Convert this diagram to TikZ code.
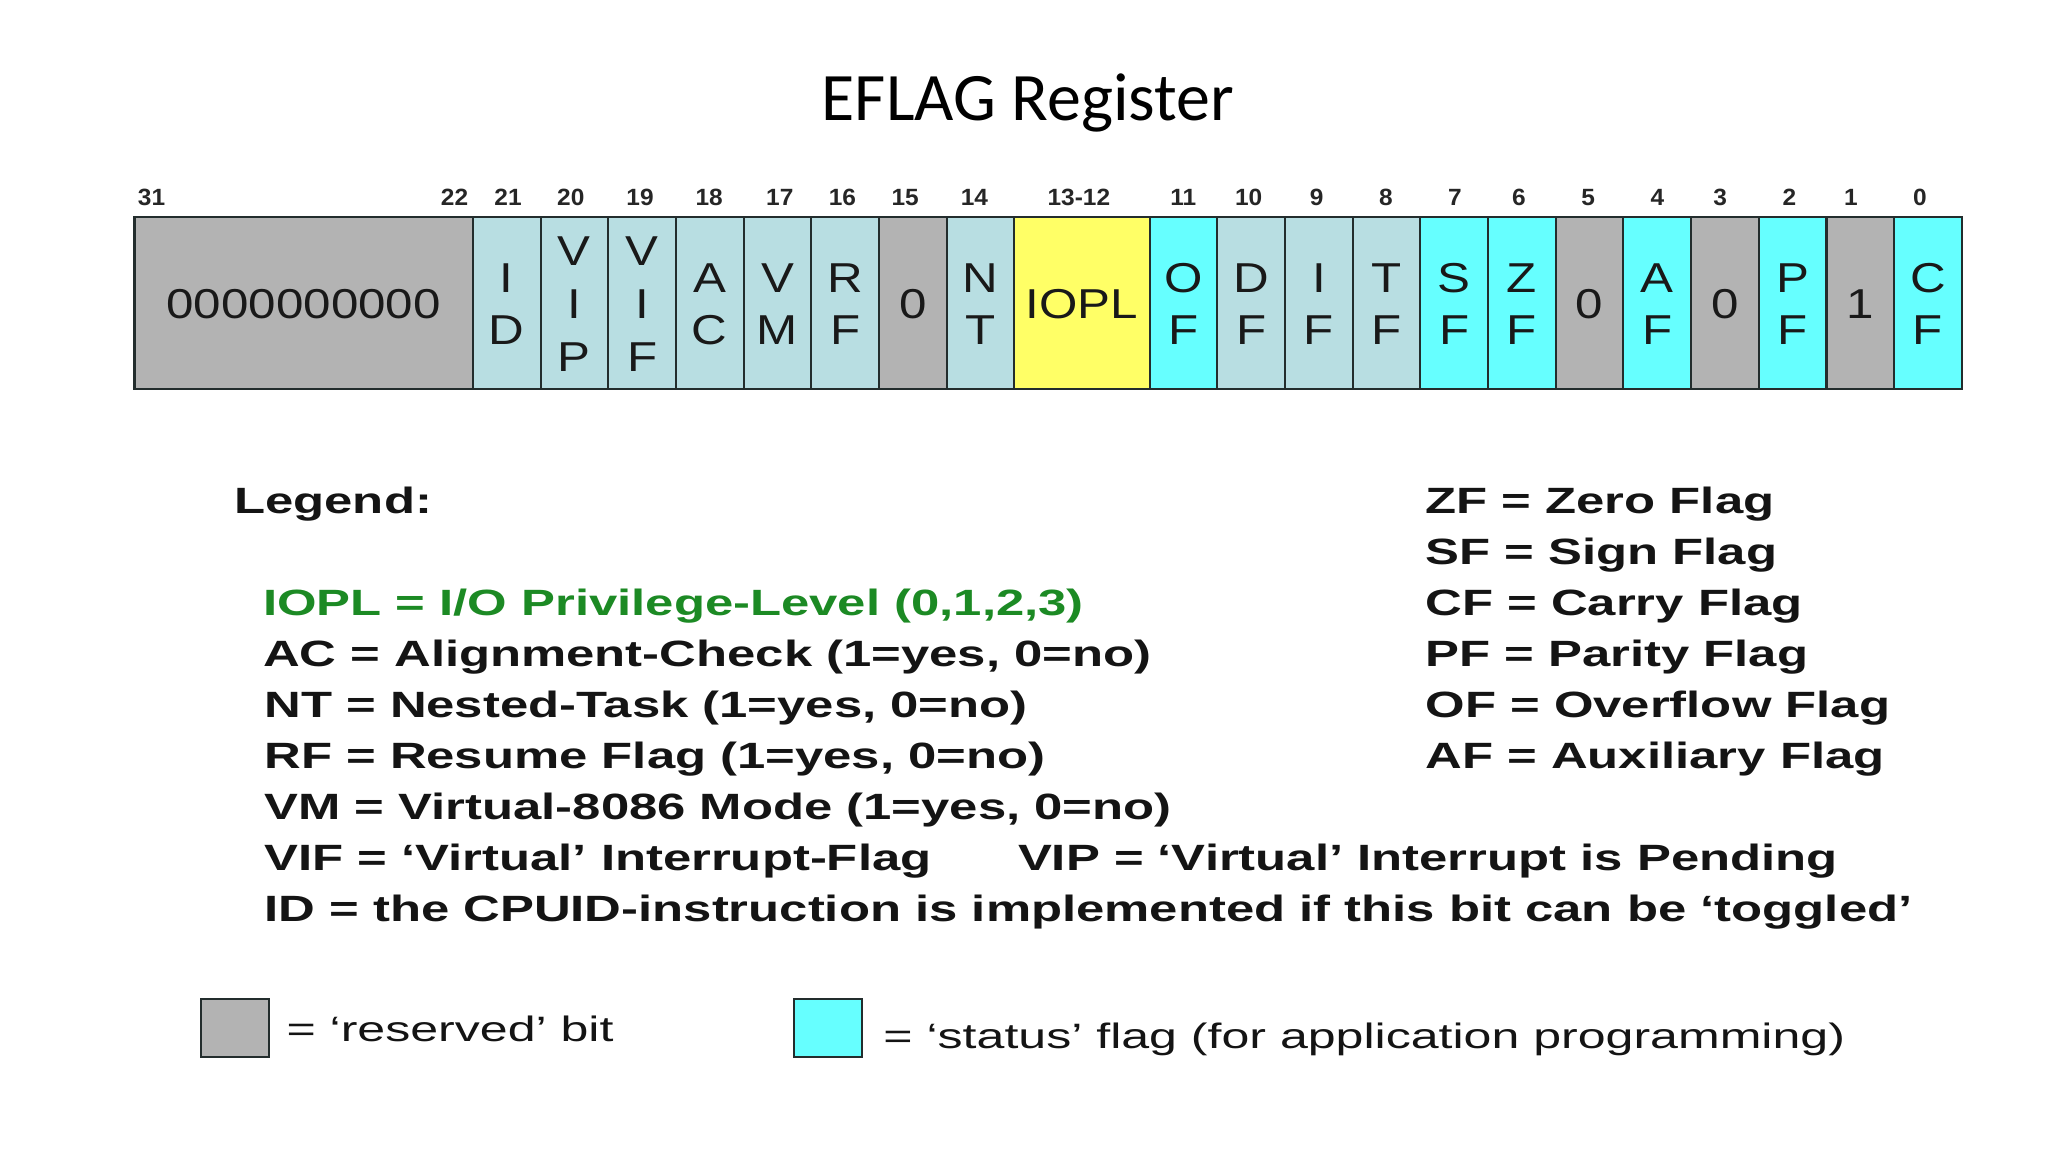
\documentclass[tikz,border=0pt]{standalone}
\usepackage{fontspec}
\setmainfont{Liberation Sans}
\newfontfamily\titlefont{Carlito}
\newfontfamily\regfont[FakeStretch=1.18]{Liberation Sans}
\newfontfamily\bitfont[FakeStretch=1.04]{Liberation Sans}
\newfontfamily\legfont[FakeStretch=1.39]{Liberation Sans}
\newfontfamily\keyfont[FakeStretch=1.42]{Liberation Sans}
\definecolor{rsv}{RGB}{179,179,179}
\definecolor{sysf}{RGB}{184,222,226}
\definecolor{stf}{RGB}{102,255,255}
\definecolor{ioplc}{RGB}{255,255,102}
\definecolor{grn}{RGB}{28,138,36}
\definecolor{edge}{RGB}{35,45,45}
\newcommand\regcell[4]{\node[cell, fill=#4, minimum width={#3*25.9074pt}] (#1) at ({103+(#2+#3/2)*51.8148},232) {};}
\newcommand\onel[2]{\node[rt] (#1-a) at ([yshift=-6pt]#1.center) {#2};}
\newcommand\twol[3]{\node[rt] (#1-a) at ([yshift=4pt]#1.center) {#2};\node[rt] (#1-b) at ([yshift=-15.75pt]#1.center) {#3};}
\newcommand\threel[4]{\node[rt] (#1-a) at ([yshift=14.5pt]#1.center) {#2};\node[rt] (#1-b) at ([yshift=-6pt]#1.center) {#3};\node[rt] (#1-c) at ([yshift=-26.3pt]#1.center) {#4};}
\begin{document}
\begin{tikzpicture}[x=0.5pt,y=-0.5pt,
  cell/.style={draw=edge, line width=0.8pt, inner sep=0pt, outer sep=0pt, minimum height=66pt},
  rt/.style={anchor=base, inner sep=0pt, text=black!90, font=\regfont\fontsize{16}{18}\selectfont},
  bitlbl/.style={anchor=base, inner sep=0pt, text=black!85, font=\bitfont\bfseries\fontsize{9}{11}\selectfont},
  leg/.style={anchor=base west, inner sep=0pt, text=black!92, font=\legfont\bfseries\fontsize{14}{16}\selectfont},
  legn/.style={anchor=base west, inner sep=0pt, text=black!92, font=\keyfont\fontsize{13.5}{16}\selectfont},
  keybox/.style={draw=edge, line width=0.8pt, inner sep=0pt, minimum width=26pt, minimum height=22pt}]
\useasboundingbox (0,0) rectangle (1568,882);
\fill[white] (0,0) rectangle (1568,882);
% title
\node[anchor=base, inner sep=0pt, font=\titlefont\fontsize{26}{30}\selectfont] (title) at (787,92) {EFLAG Register};
% register cells
\regcell{bRes}{0}{5}{rsv}
\regcell{bID}{5}{1}{sysf}
\regcell{bVIP}{6}{1}{sysf}
\regcell{bVIF}{7}{1}{sysf}
\regcell{bAC}{8}{1}{sysf}
\regcell{bVM}{9}{1}{sysf}
\regcell{bRF}{10}{1}{sysf}
\regcell{bXV}{11}{1}{rsv}
\regcell{bNT}{12}{1}{sysf}
\regcell{bIOPL}{13}{2}{ioplc}
\regcell{bOF}{15}{1}{stf}
\regcell{bDF}{16}{1}{sysf}
\regcell{bIF}{17}{1}{sysf}
\regcell{bTF}{18}{1}{sysf}
\regcell{bSF}{19}{1}{stf}
\regcell{bZF}{20}{1}{stf}
\regcell{bV}{21}{1}{rsv}
\regcell{bAF}{22}{1}{stf}
\regcell{bIII}{23}{1}{rsv}
\regcell{bPF}{24}{1}{stf}
\regcell{bI}{25}{1}{rsv}
\regcell{bCF}{26}{1}{stf}
% cell texts
\onel{bRes}{0000000000}
\twol{bID}{I}{D}
\threel{bVIP}{V}{I}{P}
\threel{bVIF}{V}{I}{F}
\twol{bAC}{A}{C}
\twol{bVM}{V}{M}
\twol{bRF}{R}{F}
\onel{bXV}{0}
\twol{bNT}{N}{T}
\onel{bIOPL}{IOPL}
\twol{bOF}{O}{F}
\twol{bDF}{D}{F}
\twol{bIF}{I}{F}
\twol{bTF}{T}{F}
\twol{bSF}{S}{F}
\twol{bZF}{Z}{F}
\onel{bV}{0}
\twol{bAF}{A}{F}
\onel{bIII}{0}
\twol{bPF}{P}{F}
\onel{bI}{1}
\twol{bCF}{C}{F}
% bit numbers
\node[bitlbl] (n31) at (116,157) {31};
\node[bitlbl] (n22) at (348,157) {22};
\node[bitlbl] (n21) at (389,157) {21};
\node[bitlbl] (n20) at (437,157) {20};
\node[bitlbl] (n19) at (490,157) {19};
\node[bitlbl] (n18) at (543,157) {18};
\node[bitlbl] (n17) at (597,157) {17};
\node[bitlbl] (n16) at (645,157) {16};
\node[bitlbl] (n15) at (693,157) {15};
\node[bitlbl] (n14) at (746,157) {14};
\node[bitlbl] (n1312) at (826,157) {13-12};
\node[bitlbl] (n11) at (906,157) {11};
\node[bitlbl] (n10) at (956,157) {10};
\node[bitlbl] (n9) at (1008,157) {9};
\node[bitlbl] (n8) at (1061,157) {8};
\node[bitlbl] (n7) at (1114,157) {7};
\node[bitlbl] (n6) at (1163,157) {6};
\node[bitlbl] (n5) at (1216,157) {5};
\node[bitlbl] (n4) at (1269,157) {4};
\node[bitlbl] (n3) at (1317,157) {3};
\node[bitlbl] (n2) at (1370,157) {2};
\node[bitlbl] (n1) at (1417,157) {1};
\node[bitlbl] (n0) at (1470,157) {0};
% legend, left column
\node[leg] (lg) at (179,393) {Legend:};
\node[leg, text=grn] (liopl) at (201,471.2) {IOPL = I/O Privilege-Level (0,1,2,3)};
\node[leg] (lac) at (201,510.3) {AC = Alignment-Check (1=yes, 0=no)};
\node[leg] (lnt) at (202,549.4) {NT = Nested-Task (1=yes, 0=no)};
\node[leg] (lrf) at (202,588.5) {RF = Resume Flag (1=yes, 0=no)};
\node[leg] (lvm) at (202,627.6) {VM = Virtual-8086 Mode (1=yes, 0=no)};
\node[leg] (lvif) at (202,666.7) {VIF = ‘Virtual’ Interrupt-Flag};
\node[leg] (lvip) at (779,666.7) {VIP = ‘Virtual’ Interrupt is Pending};
\node[leg] (lid) at (202,705.8) {ID = the CPUID-instruction is implemented if this bit can be ‘toggled’};
% legend, right column
\node[leg] (lzf) at (1091,393) {ZF = Zero Flag};
\node[leg] (lsf) at (1091,432.1) {SF = Sign Flag};
\node[leg] (lcf) at (1091,471.2) {CF = Carry Flag};
\node[leg] (lpf) at (1091,510.3) {PF = Parity Flag};
\node[leg] (lof) at (1091,549.4) {OF = Overflow Flag};
\node[leg] (laf) at (1091,588.5) {AF = Auxiliary Flag};
% colour key
\node[keybox, fill=rsv] (kres) at (180,787) {};
\node[legn] (kresT) at (219,797.5) {= ‘reserved’ bit};
\node[keybox, fill=stf] (kst) at (634,787) {};
\node[legn] (kstT) at (676,802.5) {= ‘status’ flag (for application programming)};
\end{tikzpicture}
\end{document}
